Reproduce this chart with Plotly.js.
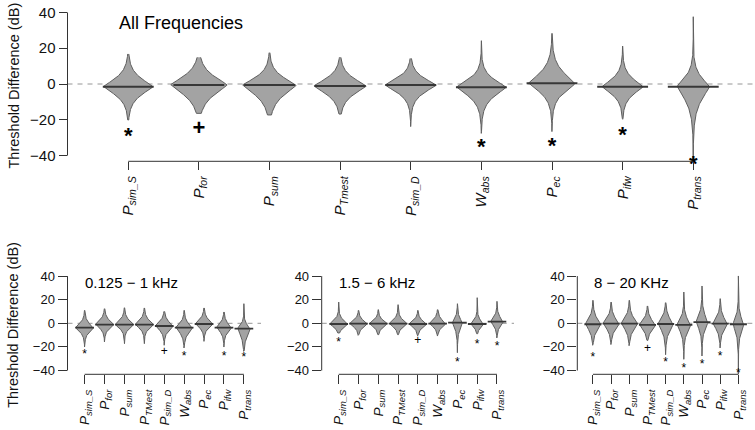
<!DOCTYPE html>
<html>
<head>
<meta charset="utf-8">
<script src="https://cdn.plot.ly/plotly-3.0.1.min.js"></script>
<style>html,body{margin:0;padding:0;background:#fff}#chart{width:755px;height:430px}</style>
</head>
<body>
<div id="chart"></div>
<script>
// ---- categories and tick labels ----
const categories = ['P_sim_S','P_for','P_sum','P_TMest','P_sim_D','W_abs','P_ec','P_ifw','P_trans'];
const labelMain = ['P','P','P','P','P','W','P','P','P'];
const labelSubTop = ['sim_S','for','sum','Tmest','sim_D','abs','ec','ifw','trans'];
const labelSubBottom = ['sim_S','for','sum','TMest','sim_D','abs','ec','ifw','trans'];
const yTicks = [-40, -20, 0, 20, 40];
const overallMean = 0;

// ---- All Frequencies ----
const allMean = [-1.5, -0.5, -0.6, -1.1, -0.6, -1.8, 0.4, -1.5, -1.5];
const allMax  = [16.8, 14.9, 17.5, 14.9, 14.3, 24.2, 28.3, 21.2, 37.6];
const allMin  = [-20.1, -16.4, -17.3, -16.8, -23.8, -27.6, -26.6, -19.7, -43.2];
const allWidth = [0.35, 0.40, 0.38, 0.37, 0.36, 0.35, 0.33, 0.29, 0.23];
const allSpreadUp = [6.5, 7, 6, 6, 5.5, 6, 8, 6, 7];
const allSpreadDown = [6.5, 8, 8, 6.5, 6, 7, 7, 6, 10];
const allMarks = ['*', '+', '', '', '', '*', '*', '*', '*'];
const allMarkY = [-25.7, -24, null, null, null, -32.2, -31.3, -25.3, -41.5];

// ---- 0.125 - 1 kHz ----
const lowMean = [-3.7, -1.1, -1.1, -1.1, -2.3, -3.7, -0.6, -3.7, -4.5];
const lowMax  = [11.0, 12.4, 13.2, 13.0, 10.1, 11.0, 13.0, 9.6, 16.6];
const lowMin  = [-20.1, -15.8, -17.3, -17.3, -18.6, -20.9, -15.3, -20.1, -23.7];
const lowWidth = [0.45, 0.46, 0.46, 0.46, 0.45, 0.42, 0.44, 0.38, 0.32];
const lowSpreadUp = [5, 5, 5, 5, 5, 5, 5, 5, 4.5];
const lowSpreadDown = [5, 4.5, 4.5, 4.5, 5, 6, 4.5, 5, 8];
const lowMarks = ['*', '', '', '', '+', '*', '', '*', '*'];
const lowMarkY = [-23.7, null, null, null, -22.9, -24.9, null, -24.9, -25.7];

// ---- 1.5 - 6 kHz ----
const midMean = [-0.6, -0.3, -0.3, -0.3, -0.6, -0.3, 0.6, -0.6, 1.4];
const midMax  = [18.0, 11.0, 11.6, 15.8, 11.0, 11.6, 16.6, 21.7, 18.6];
const midMin  = [-8.2, -10.2, -9.6, -9.6, -10.8, -10.8, -24.9, -8.8, -12.4];
const midWidth = [0.45, 0.45, 0.45, 0.45, 0.45, 0.42, 0.25, 0.32, 0.32];
const midSpreadUp = [4.5, 4, 4, 4.5, 4, 4.5, 5, 4.5, 5];
const midSpreadDown = [4, 4, 4, 4, 4, 4, 7, 4, 5];
const midMarks = ['*', '', '', '', '+', '', '*', '*', '*'];
const midMarkY = [-13.6, null, null, null, -14.4, null, -30, -15.3, -16.7];

// ---- 8 - 20 KHz ----
const highMean = [-0.8, -0.3, -0.3, -1.4, -0.6, -1.4, 1.0, -0.3, -0.8];
const highMax  = [19.5, 18.0, 19.5, 14.7, 17.5, 26.5, 31.6, 20.9, 40.1];
const highMin  = [-18.6, -18.0, -19.0, -14.4, -26.6, -30.5, -27.7, -20.9, -43.2];
const highWidth = [0.42, 0.45, 0.45, 0.45, 0.42, 0.38, 0.33, 0.40, 0.30];
const highSpreadUp = [7, 6.5, 7, 6, 7, 7, 8, 7, 8];
const highSpreadDown = [7, 6.5, 7, 6, 8, 8, 8, 7, 9];
const highMarks = ['*', '', '', '+', '*', '*', '*', '*', '*'];
const highMarkY = [-25.7, null, null, -21, -30.5, -35, -32.2, -25.2, -39.8];

// ---- styling / layout ----
const W = 755, H = 430;
const FILL = 'rgb(163,163,163)', OUTLINE = 'rgb(95,95,95)', MEANCOL = 'rgb(55,55,55)';
const SHAPE_P = 1.3;
const xRange = [-0.86, categories.length - 1 + 0.86];
const yRange = [-43.2, 43.2];
// vertical glyph-centre offsets (in em) for text placed with textposition 'bottom center'
const GLYPH_SHIFT = {'*': 0.175, '+': 0.40};

const panels = [
  {key:'', title:'All Frequencies', titleSize:18, mean:allMean, max:allMax, min:allMin, width:allWidth, su:allSpreadUp, sl:allSpreadDown, marks:allMarks, markY:allMarkY,
   dx:[67.5/W, 754/W], dy:[1-161.3/H, 1-6.7/H], lineHalf:0.36, meanW:2, tickSize:15, labelSize:15, subs:labelSubTop, ticklen:8, markSize:22, markBold:true, titleX:0.072, titleY:0.893, ytitle:true},
  {key:'2', title:'0.125 \u2212 1 kHz', titleSize:15, mean:lowMean, max:lowMax, min:lowMin, width:lowWidth, su:lowSpreadUp, sl:lowSpreadDown, marks:lowMarks, markY:lowMarkY,
   dx:[67.5/W, 261/W], dy:[1-374.3/H, 1-272.3/H], lineHalf:0.47, meanW:1.8, tickSize:13, labelSize:13.5, subs:labelSubBottom, ticklen:9, markSize:12, markBold:false, titleX:0.078, titleY:0.9, ytitle:true},
  {key:'3', title:'1.5 \u2212 6 kHz', titleSize:15, mean:midMean, max:midMax, min:midMin, width:midWidth, su:midSpreadUp, sl:midSpreadDown, marks:midMarks, markY:midMarkY,
   dx:[321.7/W, 514/W], dy:[1-374.3/H, 1-272.3/H], lineHalf:0.47, meanW:1.8, tickSize:13, labelSize:13.5, subs:labelSubBottom, ticklen:9, markSize:12, markBold:false, titleX:0.08, titleY:0.9, ytitle:false},
  {key:'4', title:'8 \u2212 20 KHz', titleSize:15, mean:highMean, max:highMax, min:highMin, width:highWidth, su:highSpreadUp, sl:highSpreadDown, marks:highMarks, markY:highMarkY,
   dx:[577.3/W, 754/W], dy:[1-374.3/H, 1-272.3/H], lineHalf:0.47, meanW:1.8, tickSize:13, labelSize:13.5, subs:labelSubBottom, ticklen:9, markSize:12, markBold:false, titleX:0.083, titleY:0.9, ytitle:false}
];

const FONT = 'Liberation Sans, Arial, Helvetica, sans-serif';
const traces = [];
const shapes = [];
const annotations = [];
const layout = {
  width: W, height: H, autosize: false,
  margin: {l:0, r:0, t:0, b:0, pad:0},
  paper_bgcolor: '#fff', plot_bgcolor: '#fff',
  showlegend: false,
  font: {family: FONT, color: '#111'},
  hovermode: false
};

function profile(i, m, mx, mn, w, su, sl) {
  const n = 160;
  const ys = [];
  for (let k = 0; k <= n; k++) ys.push(mx - (mx - mn) * k / n);
  ys.push(m);
  ys.sort((a, b) => b - a);
  const hw = ys.map(y => {
    const d = y - m;
    const s = d >= 0 ? su : sl;
    return w * Math.exp(-Math.pow(Math.abs(d) / s, SHAPE_P));
  });
  const X = [], Y = [];
  for (let k = 0; k < ys.length; k++) { X.push(i + hw[k]); Y.push(ys[k]); }
  for (let k = ys.length - 1; k >= 0; k--) { X.push(i - hw[k]); Y.push(ys[k]); }
  return {X, Y};
}

panels.forEach(p => {
  const xa = 'x' + p.key, ya = 'y' + p.key;
  const xName = 'xaxis' + p.key, yName = 'yaxis' + p.key;
  const pxPerDB = (p.dy[1] - p.dy[0]) * H / (yRange[1] - yRange[0]);
  layout[xName] = {
    domain: p.dx, range: xRange, anchor: ya, showgrid: false, zeroline: false, showline: false,
    tickmode: 'array', tickvals: categories.map((c, i) => i),
    ticktext: categories.map((c, i) => '<i>' + labelMain[i] + '</i><sub><i>' + p.subs[i] + '</i></sub>'),
    tickangle: -90, ticks: 'outside', ticklen: p.ticklen, tickwidth: 1, tickcolor: '#333',
    tickfont: {size: p.labelSize, family: FONT, color: '#111'}, fixedrange: true
  };
  layout[yName] = {
    domain: p.dy, range: yRange, anchor: xa, showgrid: false, zeroline: false, showline: false,
    tickmode: 'array', tickvals: yTicks, ticktext: yTicks.map(v => v < 0 ? '\u2212' + Math.abs(v) : String(v)),
    ticks: 'outside', ticklen: p.ticklen, tickwidth: 1, tickcolor: '#333',
    tickfont: {size: p.tickSize, family: FONT, color: '#111'}, fixedrange: true
  };
  // overall mean dashed line
  shapes.push({type:'line', xref: xa + ' domain', yref: ya, x0: 0, x1: 1, y0: overallMean, y1: overallMean,
    line: {color: 'rgb(150,150,150)', width: 1, dash: '5px,5px'}, layer: 'below'});
  // y axis line
  shapes.push({type:'line', xref: xa + ' domain', yref: ya, x0: 0, x1: 0, y0: yTicks[0], y1: yTicks[yTicks.length - 1],
    line: {color: '#333', width: 1}});
  // x axis line
  shapes.push({type:'line', xref: xa, yref: ya + ' domain', x0: 0, x1: categories.length - 1, y0: 0, y1: 0,
    line: {color: '#333', width: 1}});

  categories.forEach((c, i) => {
    const pr = profile(i, p.mean[i], p.max[i], p.min[i], p.width[i], p.su[i], p.sl[i]);
    traces.push({type:'scatter', mode:'lines', x: pr.X, y: pr.Y, xaxis: xa, yaxis: ya, fill:'toself',
      fillcolor: FILL, line: {color: OUTLINE, width: 1}, hoverinfo: 'skip'});
  });
  // mean lines
  const mx = [], my = [];
  categories.forEach((c, i) => { mx.push(i - p.lineHalf, i + p.lineHalf, null); my.push(p.mean[i], p.mean[i], null); });
  traces.push({type:'scatter', mode:'lines', x: mx, y: my, xaxis: xa, yaxis: ya,
    line: {color: MEANCOL, width: p.meanW}, hoverinfo: 'skip', connectgaps: false});
  // significance marks (text glyphs; y is the visual centre of the glyph)
  const tx = [], ty = [], tt = [];
  categories.forEach((c, i) => {
    if (!p.marks[i]) return;
    const shift = GLYPH_SHIFT[p.marks[i]] * p.markSize / pxPerDB;
    tx.push(i); ty.push(p.markY[i] + shift); tt.push(p.marks[i]);
  });
  traces.push({type:'scatter', mode:'text', x: tx, y: ty, text: tt, xaxis: xa, yaxis: ya,
    textposition: 'bottom center', cliponaxis: false,
    textfont: {size: p.markSize, family: FONT, color: '#000', weight: p.markBold ? 'bold' : 'normal'}, hoverinfo: 'skip'});
  // panel title
  annotations.push({xref: xa + ' domain', yref: ya + ' domain', x: p.titleX, y: p.titleY, xanchor: 'left', yanchor: 'middle',
    text: p.title, showarrow: false, font: {size: p.titleSize, family: FONT, color: '#000'}});
  if (p.ytitle) {
    annotations.push({xref: 'paper', yref: 'paper', x: 13 / W, y: (p.dy[0] + p.dy[1]) / 2 - 1.5 / H, xanchor: 'center', yanchor: 'middle',
      textangle: -90, text: 'Threshold Difference (dB)', showarrow: false, font: {size: 14.5, family: FONT, color: '#111'}});
  }
});

layout.shapes = shapes;
layout.annotations = annotations;
Plotly.newPlot('chart', traces, layout, {staticPlot: true, displayModeBar: false});
</script>
</body>
</html>
